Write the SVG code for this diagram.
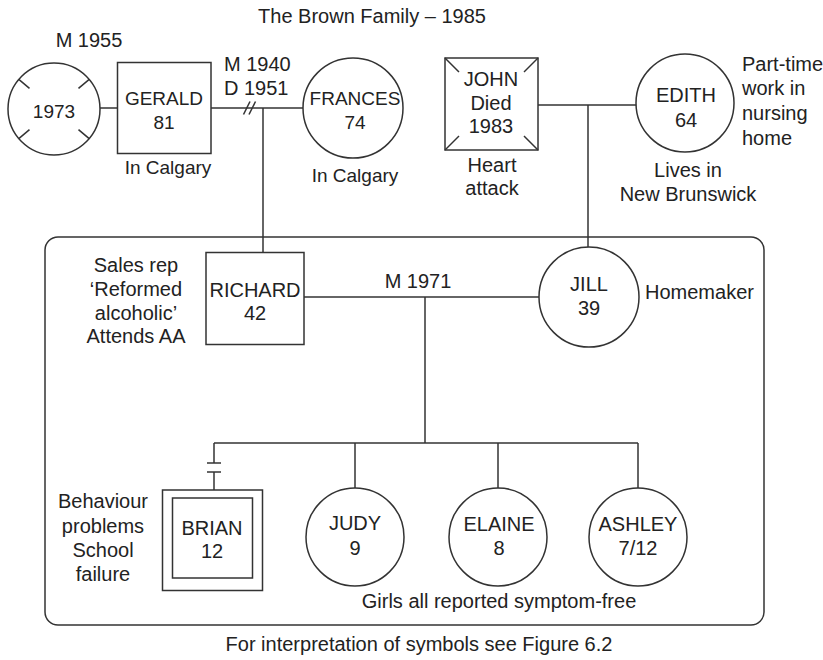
<svg xmlns="http://www.w3.org/2000/svg" width="823" height="660" viewBox="0 0 823 660">
<style>
.s{fill:none;stroke:#333;stroke-width:1.5}
.n{fill:#fff;stroke:#333;stroke-width:1.5}
text{font-family:"Liberation Sans",Arial,sans-serif;font-size:20px;fill:#222}
.c{text-anchor:middle}
.m{font-size:19px}
</style>
<rect width="823" height="660" fill="#fff"/>
<text class="c" x="372" y="23">The Brown Family – 1985</text>
<text class="c" x="419" y="651">For interpretation of symbols see Figure 6.2</text>
<rect id="household" class="s" x="45" y="237" width="719" height="388" rx="13"/>
<g id="connectors" class="s">
<line x1="100" y1="108" x2="118" y2="108"/>
<line x1="211" y1="108" x2="303" y2="108"/>
<line x1="243.5" y1="114.5" x2="250" y2="101.5"/>
<line x1="249" y1="114.5" x2="255.5" y2="101.5"/>
<line x1="263" y1="108" x2="263" y2="252"/>
<line x1="538" y1="105" x2="636" y2="105"/>
<line x1="588" y1="105" x2="588" y2="247"/>
<line x1="304" y1="297" x2="539" y2="297"/>
<line x1="425" y1="297" x2="425" y2="443"/>
<line x1="214" y1="443" x2="638" y2="443"/>
<line x1="214" y1="443" x2="214" y2="463"/>
<line x1="207" y1="463" x2="221" y2="463"/>
<line x1="207" y1="472" x2="221" y2="472"/>
<line x1="214" y1="472" x2="214" y2="490"/>
<line x1="355" y1="443" x2="355" y2="488"/>
<line x1="498" y1="443" x2="498" y2="488"/>
<line x1="638" y1="443" x2="638" y2="488"/>
</g>
<text class="c" x="89" y="47">M 1955</text>
<text x="224" y="71">M 1940</text>
<text x="224" y="95">D 1951</text>
<text class="c" x="418" y="288">M 1971</text>
<g id="wife1973">
<circle class="n" cx="54" cy="109" r="46"/>
<g class="s">
<line x1="18.8" y1="79.4" x2="29.5" y2="88.4"/>
<line x1="89.2" y1="79.4" x2="78.5" y2="88.4"/>
<line x1="18.8" y1="138.6" x2="29.5" y2="129.6"/>
<line x1="89.2" y1="138.6" x2="78.5" y2="129.6"/>
</g>
<text class="c m" x="54" y="118">1973</text>
</g>
<g id="gerald">
<rect class="n" x="117.5" y="62.5" width="93.5" height="91"/>
<text class="c m" x="164" y="105">GERALD</text>
<text class="c m" x="164" y="129">81</text>
<text class="c m" x="168" y="174">In Calgary</text>
</g>
<g id="frances">
<circle class="n" cx="353" cy="108" r="50"/>
<text class="c m" x="355" y="105">FRANCES</text>
<text class="c m" x="355" y="129">74</text>
<text class="c m" x="355" y="182">In Calgary</text>
</g>
<g id="john">
<rect class="n" x="445" y="58" width="93" height="92"/>
<g class="s">
<line x1="445" y1="58" x2="459" y2="72"/>
<line x1="538" y1="58" x2="524" y2="72"/>
<line x1="445" y1="150" x2="459" y2="136"/>
<line x1="538" y1="150" x2="524" y2="136"/>
</g>
<text class="c" x="491" y="86">JOHN</text>
<text class="c" x="491" y="110">Died</text>
<text class="c" x="491" y="133">1983</text>
<text class="c" x="492" y="172">Heart</text>
<text class="c" x="492" y="195">attack</text>
</g>
<g id="edith">
<circle class="n" cx="685" cy="103" r="49"/>
<text class="c" x="686" y="102">EDITH</text>
<text class="c" x="686" y="127">64</text>
<text x="742" y="71">Part-time</text>
<text x="742" y="95">work in</text>
<text x="742" y="120">nursing</text>
<text x="742" y="145">home</text>
<text class="c" x="688" y="177">Lives in</text>
<text class="c" x="688" y="201">New Brunswick</text>
</g>
<g id="richard">
<rect class="n" x="206" y="252.5" width="98" height="92"/>
<text class="c" x="255" y="297">RICHARD</text>
<text class="c" x="255" y="320">42</text>
<text class="c" x="136" y="272">Sales rep</text>
<text class="c" x="136" y="296">‘Reformed</text>
<text class="c" x="136" y="320">alcoholic’</text>
<text class="c" x="136" y="343">Attends AA</text>
</g>
<g id="jill">
<circle class="n" cx="589" cy="297" r="50"/>
<text class="c" x="589" y="291">JILL</text>
<text class="c" x="589" y="315">39</text>
<text x="645" y="299">Homemaker</text>
</g>
<g id="brian">
<rect class="n" x="162.5" y="490" width="100" height="100.5"/>
<rect class="n" x="172.5" y="498" width="80" height="80"/>
<text class="c" x="212" y="535">BRIAN</text>
<text class="c" x="212" y="558">12</text>
<text class="c" x="103" y="508">Behaviour</text>
<text class="c" x="103" y="533">problems</text>
<text class="c" x="103" y="557">School</text>
<text class="c" x="103" y="581">failure</text>
</g>
<g id="judy">
<circle class="n" cx="355" cy="537" r="49"/>
<text class="c" x="355" y="530">JUDY</text>
<text class="c" x="355" y="555">9</text>
</g>
<g id="elaine">
<circle class="n" cx="498" cy="537" r="49"/>
<text class="c" x="499" y="531">ELAINE</text>
<text class="c" x="499" y="555">8</text>
</g>
<g id="ashley">
<circle class="n" cx="638" cy="537" r="49"/>
<text class="c" x="638" y="531">ASHLEY</text>
<text class="c" x="638" y="555">7/12</text>
</g>
<text class="c" x="499" y="608">Girls all reported symptom-free</text>
</svg>
